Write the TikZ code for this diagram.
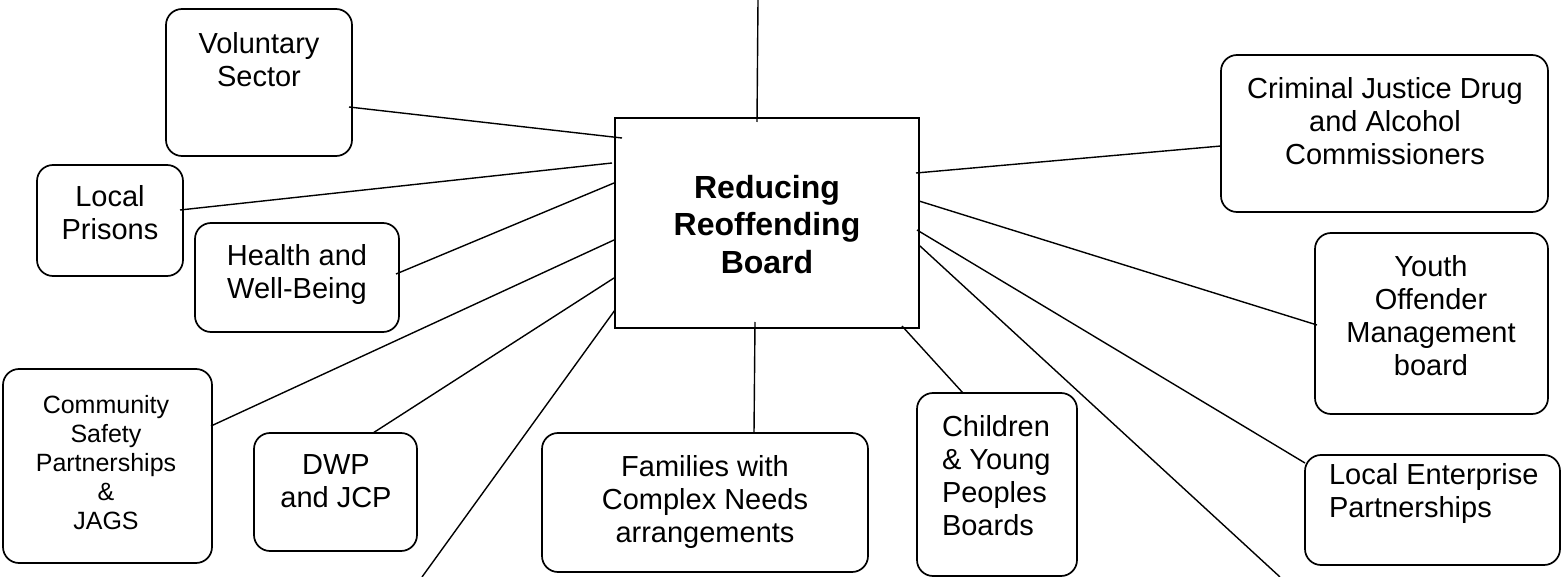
\documentclass[tikz,border=0pt]{standalone}
\usepackage{fontspec}
\setmainfont{Liberation Sans}
\usetikzlibrary{calc}
\begin{document}
\begin{tikzpicture}[x=1pt,y=-1pt,
  box/.style={draw, line width=1.7pt, rounded corners=16pt, inner sep=0pt, outer sep=0pt},
  cbox/.style={draw, line width=1.8pt, inner sep=0pt, outer sep=0pt},
  txt/.style={inner sep=0pt, outer sep=0pt, align=center, anchor=north, font=\fontsize{29}{33}\selectfont},
  ltxt/.style={txt, align=left, anchor=north west},
  link/.style={line width=1.4pt}]
\useasboundingbox (0,0) rectangle (1561,577);
% central board
\node[cbox, minimum width=304pt, minimum height=210pt] (c) at (767,223) {};
\node[txt, font=\fontsize{32}{37.5}\selectfont\bfseries] (ct) at (767,175) {Reducing\\Reoffending\\Board};
% surrounding boxes
\node[box, minimum width=186pt, minimum height=147pt] (vol) at (259,82.5) {};
\node[box, minimum width=146pt, minimum height=111pt] (pri) at (110,220.5) {};
\node[box, minimum width=204pt, minimum height=109pt] (hea) at (297,277.5) {};
\node[box, minimum width=209pt, minimum height=194pt] (com) at (107.5,466) {};
\node[box, minimum width=163pt, minimum height=118pt] (dwp) at (335.5,492) {};
\node[box, minimum width=326pt, minimum height=139pt] (fam) at (705,502.5) {};
\node[box, minimum width=160pt, minimum height=183pt] (chi) at (997,484.5) {};
\node[box, minimum width=255pt, minimum height=110pt] (lep) at (1432.5,510) {};
\node[box, minimum width=233pt, minimum height=181pt] (you) at (1431.5,323.5) {};
\node[box, minimum width=327pt, minimum height=157pt] (cj) at (1384.5,133.5) {};
% texts
\node[txt] (volT) at (259,32) {Voluntary\\Sector};
\node[txt] (priT) at (110,185) {Local\\Prisons};
\node[txt] (heaT) at (297,244) {Health and\\Well-Being};
\node[txt, font=\fontsize{25}{29}\selectfont] (comT) at (106,395) {Community\\Safety\\Partnerships\\\&\\JAGS};
\node[txt] (dwpT) at (336,455) {DWP\\and JCP};
\node[txt] (famT) at (705,455) {Families with\\Complex Needs\\arrangements};
\node[ltxt] (chiT) at (942,415) {Children\\\& Young\\Peoples\\Boards};
\node[ltxt] (lepT) at (1329,463) {Local Enterprise\\Partnerships};
\node[txt] (youT) at (1431,255.5) {Youth\\Offender\\Management\\board};
\node[txt] (cjT) at (1385,77) {Criminal Justice Drug\\and Alcohol\\Commissioners};
% free ends
\coordinate (topend) at (758,0);
\coordinate (blend) at (422,577);
\coordinate (brend) at (1280,577);
% connectors
\draw[link] (topend) -- ([shift={(-10,4)}]c.north);
\draw[link] ([shift={(-3,24.5)}]vol.east) -- ([shift={(7,20)}]c.north west);
\draw[link] ([shift={(-3,-10.5)}]pri.east) -- ([shift={(-3,45)}]c.north west);
\draw[link] ([shift={(-3,-3.5)}]hea.east) -- ([shift={(-1,65)}]c.north west);
\draw[link] ([shift={(-1,-40)}]com.east) -- ([shift={(-1,122)}]c.north west);
\draw[link] ([shift={(37.5,0)}]dwp.north) -- ([shift={(-1,160)}]c.north west);
\draw[link] ([shift={(0,192)}]c.north west) -- (blend);
\draw[link] ([shift={(49,0)}]fam.north) -- ([shift={(-12,-6)}]c.south);
\draw[link] ([shift={(-34,0)}]chi.north) -- ([shift={(-17,-2)}]c.south east);
\draw[link] ([shift={(1,128)}]c.north east) -- (brend);
\draw[link] ([shift={(0,-47)}]lep.west) -- ([shift={(-2,112)}]c.north east);
\draw[link] ([shift={(2,1.5)}]you.west) -- ([shift={(0,83)}]c.north east);
\draw[link] ([shift={(0,12.5)}]cj.west) -- ([shift={(-3,55)}]c.north east);
\end{tikzpicture}
\end{document}
